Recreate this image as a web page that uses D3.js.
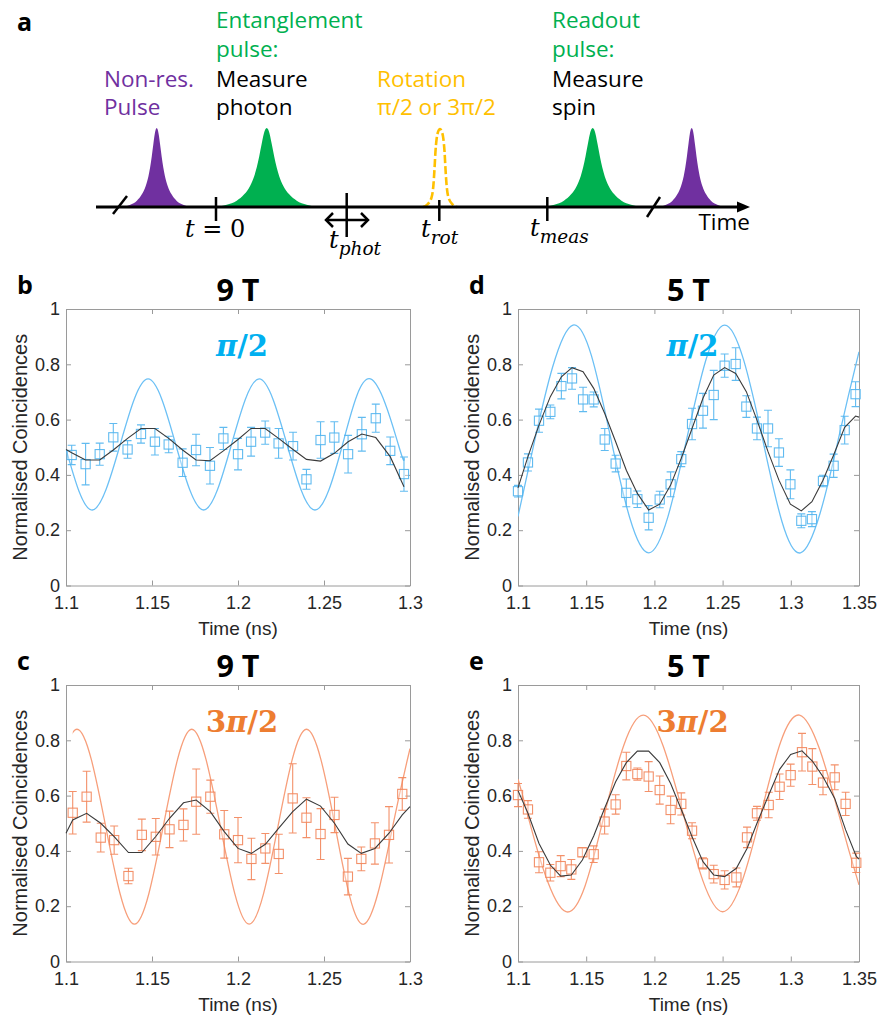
<!DOCTYPE html>
<html>
<head>
<meta charset="utf-8">
<script src="https://cdn.jsdelivr.net/npm/d3@7"></script>
<style>
  body { margin: 0; background: #fff; }
  svg { display: block; }
</style>
</head>
<body>
<svg id="fig" width="877" height="1017"></svg>
<script>
// ---- data ----
const ticks9 = [1.1, 1.15, 1.2, 1.25, 1.3];
const ticks5 = [1.1, 1.15, 1.2, 1.25, 1.3, 1.35];
const yTicks = [0, 0.2, 0.4, 0.6, 0.8, 1];

// b: 9 T, pi/2
const b9X = [1.1033,1.1114,1.1196,1.1275,1.1358,1.1436,1.1517,1.1597,1.1678,1.1756,1.1837,1.1915,1.2000,1.2076,1.2158,1.2236,1.2320,1.2398,1.2480,1.2560,1.2640,1.2720,1.2801,1.2885,1.2965];
const b9Y = [0.472,0.439,0.475,0.536,0.492,0.548,0.520,0.510,0.444,0.490,0.433,0.532,0.475,0.520,0.553,0.514,0.504,0.384,0.526,0.535,0.475,0.547,0.605,0.487,0.403];
const b9E = [0.035,0.075,0.040,0.050,0.032,0.033,0.048,0.030,0.050,0.057,0.066,0.040,0.057,0.052,0.042,0.054,0.050,0.036,0.066,0.057,0.068,0.061,0.051,0.050,0.062];
const b9ModelX = [1.1].concat(b9X);
const b9ModelY = [0.492,0.480,0.454,0.454,0.490,0.532,0.568,0.568,0.532,0.490,0.454,0.451,0.487,0.528,0.568,0.568,0.532,0.492,0.456,0.450,0.478,0.520,0.548,0.535,0.466,0.357];
const b9FitX = [1.1,1.1153,1.1315,1.1477,1.1638,1.1800,1.1962,1.2123,1.2285,1.2447,1.2608,1.2770,1.2932,1.2965];
const b9FitY = [0.494,0.273,0.51,0.747,0.51,0.273,0.51,0.747,0.51,0.273,0.51,0.747,0.51,0.46];

// d: 5 T, pi/2
const d5X = [1.1000,1.1073,1.1154,1.1237,1.1318,1.1396,1.1477,1.1555,1.1636,1.1716,1.1794,1.1875,1.1958,1.2039,1.2119,1.2197,1.2276,1.2356,1.2435,1.2515,1.2596,1.2674,1.2752,1.2833,1.2913,1.2997,1.3077,1.3155,1.3236,1.3314,1.3395,1.3475];
const d5Y = [0.341,0.445,0.596,0.628,0.721,0.749,0.673,0.673,0.528,0.441,0.335,0.312,0.245,0.311,0.366,0.457,0.584,0.632,0.689,0.795,0.801,0.647,0.568,0.568,0.481,0.366,0.234,0.240,0.378,0.433,0.562,0.692];
const d5E = [0.021,0.031,0.042,0.025,0.046,0.039,0.044,0.027,0.040,0.030,0.050,0.030,0.044,0.030,0.045,0.027,0.057,0.063,0.089,0.042,0.059,0.039,0.041,0.066,0.050,0.052,0.025,0.027,0.021,0.042,0.050,0.045];
const d5ModelX = d5X.concat([1.35]);
const d5ModelY = [0.353,0.466,0.580,0.683,0.755,0.788,0.773,0.713,0.622,0.520,0.417,0.333,0.273,0.294,0.363,0.460,0.568,0.677,0.761,0.788,0.767,0.701,0.598,0.484,0.381,0.294,0.270,0.303,0.381,0.472,0.572,0.613,0.609];
const d5FitX = [1.1,1.1125,1.1403,1.1681,1.1959,1.2237,1.2515,1.2793,1.3071,1.3349,1.35];
const d5FitY = [0.25,0.53,0.942,0.53,0.118,0.53,0.942,0.53,0.118,0.53,0.845];

// c: 9 T, 3pi/2  (fit is drawn from the first data point)
const c9X = [1.1039,1.1120,1.1202,1.1280,1.1363,1.1441,1.1522,1.1602,1.1683,1.1757,1.1839,1.1920,1.2000,1.2078,1.2159,1.2237,1.2318,1.2398,1.2480,1.2561,1.2639,1.2717,1.2796,1.2878,1.2955];
const c9Y = [0.538,0.596,0.448,0.439,0.309,0.458,0.451,0.478,0.494,0.578,0.596,0.460,0.439,0.371,0.409,0.389,0.590,0.520,0.461,0.530,0.307,0.371,0.427,0.458,0.606];
const c9E = [0.077,0.092,0.052,0.051,0.028,0.057,0.066,0.066,0.058,0.118,0.060,0.086,0.082,0.075,0.054,0.071,0.125,0.072,0.092,0.064,0.066,0.043,0.075,0.102,0.059];
const c9ModelX = [1.1].concat(c9X, [1.3]);
const c9ModelY = [0.464,0.512,0.536,0.500,0.452,0.394,0.394,0.452,0.518,0.574,0.584,0.542,0.470,0.409,0.391,0.424,0.482,0.542,0.587,0.562,0.500,0.425,0.391,0.409,0.464,0.530,0.560];
const c9FitX = [1.0897,1.1064,1.1231,1.1398,1.1565,1.1731,1.1898,1.2065,1.2232,1.2398,1.2565,1.2732,1.2899,1.3];
const c9FitY = [0.4875,0.84,0.4875,0.135,0.4875,0.84,0.4875,0.135,0.4875,0.84,0.4875,0.135,0.4875,0.77];

// e: 5 T, 3pi/2
const e5X = [1.1000,1.1073,1.1154,1.1237,1.1313,1.1391,1.1472,1.1555,1.1635,1.1716,1.1794,1.1875,1.1958,1.2039,1.2119,1.2197,1.2276,1.2356,1.2435,1.2515,1.2601,1.2679,1.2752,1.2838,1.2918,1.2999,1.3082,1.3158,1.3236,1.3322,1.3402,1.3480];
const e5Y = [0.602,0.550,0.359,0.321,0.345,0.333,0.395,0.388,0.506,0.568,0.707,0.678,0.669,0.620,0.548,0.570,0.473,0.355,0.316,0.295,0.304,0.449,0.536,0.566,0.632,0.674,0.757,0.705,0.647,0.666,0.570,0.357];
const e5E = [0.042,0.032,0.038,0.030,0.038,0.036,0.016,0.030,0.045,0.035,0.050,0.022,0.054,0.051,0.050,0.040,0.029,0.020,0.032,0.033,0.034,0.037,0.025,0.046,0.046,0.040,0.068,0.065,0.044,0.045,0.042,0.035];
const e5ModelX = e5X.concat([1.35]);
const e5ModelY = [0.618,0.536,0.427,0.349,0.309,0.313,0.367,0.454,0.554,0.650,0.719,0.761,0.761,0.719,0.644,0.550,0.451,0.361,0.313,0.307,0.337,0.409,0.500,0.602,0.695,0.749,0.762,0.725,0.668,0.590,0.476,0.380,0.370];
const e5FitX = [1.1,1.1068,1.1352,1.1636,1.1919,1.2210,1.2500,1.2782,1.3064,1.3350,1.35];
const e5FitY = [0.659,0.536,0.18,0.536,0.891,0.536,0.18,0.536,0.891,0.536,0.277];

// pulse outlines for the sketch in panel a: [offset / half width, height fraction]
const peakShape = [[-1,0],[-0.8,0.03],[-0.6,0.08],[-0.45,0.16],[-0.33,0.27],[-0.25,0.39],[-0.2,0.5],[-0.15,0.64],[-0.1,0.8],[-0.06,0.92],[-0.03,0.98],[0,1],
  [0.03,0.98],[0.06,0.92],[0.1,0.8],[0.15,0.64],[0.2,0.5],[0.25,0.39],[0.33,0.27],[0.45,0.16],[0.6,0.08],[0.8,0.03],[1,0]];
const rotShape = [[-1,0],[-0.75,0.03],[-0.5,0.12],[-0.38,0.3],[-0.32,0.5],[-0.27,0.7],[-0.2,0.87],[-0.12,0.96],[0,1],
  [0.12,0.96],[0.2,0.87],[0.27,0.7],[0.32,0.5],[0.38,0.3],[0.5,0.12],[0.75,0.03],[1,0]];

// ---- styles ----
const PURPLE = '#7030a0', GREEN = '#00b050', GOLD = '#ffc000';
const BLUE_T = '#00b0f0', ORANGE_T = '#ed7d31';
const FRAME = '#9a9a9a', TICKTXT = '#262626';
const sans = "'Open Sans', 'Noto Sans', sans-serif";
const arial = "'Liberation Sans', Arial, sans-serif";
const serif = "'DejaVu Serif', serif";

const svg = d3.select('#fig');

// ---- panel a: pulse sequence sketch ----
const ga = svg.append('g');
const base = 207, peakH = 79;

function drawPeak(cx, w, color) {
  const area = d3.area()
    .x(d => cx + d[0] * w)
    .y0(base)
    .y1(d => base - d[1] * peakH)
    .curve(d3.curveMonotoneX);
  ga.append('path').attr('d', area(peakShape)).attr('fill', color);
}
drawPeak(156.7, 33, PURPLE);
drawPeak(266.7, 50, GREEN);
drawPeak(592.7, 48, GREEN);
drawPeak(691.7, 32, PURPLE);

const rotLine = d3.line()
  .x(d => 440 + d[0] * 17)
  .y(d => base - d[1] * 78)
  .curve(d3.curveMonotoneX);
ga.append('path').attr('d', rotLine(rotShape))
  .attr('fill', 'none').attr('stroke', GOLD).attr('stroke-width', 2.6)
  .attr('stroke-dasharray', '8,3');

// time axis
ga.append('line').attr('x1', 96).attr('x2', 740).attr('y1', base).attr('y2', base)
  .attr('stroke', '#000').attr('stroke-width', 3);
ga.append('path').attr('d', `M750,${base} L737,${base - 5.5} L737,${base + 5.5} Z`).attr('fill', '#000');

// break marks
[[113, 214, 127, 196], [647, 217, 660, 197]].forEach(s => {
  ga.append('line').attr('x1', s[0]).attr('y1', s[1]).attr('x2', s[2]).attr('y2', s[3])
    .attr('stroke', '#000').attr('stroke-width', 2.5);
});

// tick marks
[[216, 197, 221], [346.7, 193, 237], [439.3, 200, 221], [547.3, 197, 221]].forEach(t => {
  ga.append('line').attr('x1', t[0]).attr('x2', t[0]).attr('y1', t[1]).attr('y2', t[2])
    .attr('stroke', '#000').attr('stroke-width', 2.5);
});

// double arrow for t_phot
ga.append('line').attr('x1', 326).attr('x2', 368).attr('y1', 220).attr('y2', 220)
  .attr('stroke', '#000').attr('stroke-width', 2.5);
ga.append('path').attr('d', 'M333,213 L326,220 L333,227 M361,213 L368,220 L361,227')
  .attr('fill', 'none').attr('stroke', '#000').attr('stroke-width', 2.5);

// labels
function label(x, y, txt, color) {
  ga.append('text').attr('x', x).attr('y', y).text(txt)
    .attr('fill', color).attr('font-family', sans).attr('font-size', 22.5);
}
label(104, 87, 'Non-res.', PURPLE);
label(104, 115, 'Pulse', PURPLE);
label(216, 28, 'Entanglement', GREEN);
label(216, 57, 'pulse:', GREEN);
label(216, 87, 'Measure', '#000');
label(216, 115, 'photon', '#000');
label(377, 87, 'Rotation', GOLD);
label(377, 115, 'π/2 or 3π/2', GOLD);
label(552, 28, 'Readout', GREEN);
label(552, 57, 'pulse:', GREEN);
label(552, 87, 'Measure', '#000');
label(552, 115, 'spin', '#000');
ga.append('text').attr('x', 750).attr('y', 230).attr('text-anchor', 'end').text('Time')
  .attr('font-family', sans).attr('font-size', 22.5);

function mathLabel(x, y, sub, rest) {
  const t = ga.append('text').attr('x', x).attr('y', y)
    .attr('font-family', serif).attr('font-size', 24);
  t.append('tspan').attr('font-style', 'italic').text('t');
  if (sub) t.append('tspan').attr('font-style', 'italic').attr('font-size', 18.5).attr('dy', 7).text(sub);
  if (rest) t.append('tspan').text(rest);
}
mathLabel(185, 237, null, ' = 0');
mathLabel(329, 248, 'phot');
mathLabel(421, 237, 'rot');
mathLabel(530, 236, 'meas');

svg.append('text').attr('x', 17).attr('y', 31).text('a')
  .attr('font-family', sans).attr('font-weight', 700).attr('font-size', 25);

// ---- panels b–e ----
const panels = [
  { tag: 'b', title: '9 T', phase: ['', 'π', '/2'], tcol: BLUE_T, dcol: '#50b4ee', fcol: '#6cc0f5',
    x0: 66, x1: 410, y0: 585.5, y1: 309, dom: [1.1, 1.3], ticks: ticks9, fitFrom: 1.1,
    X: b9X, Y: b9Y, E: b9E, mX: b9ModelX, mY: b9ModelY, fX: b9FitX, fY: b9FitY },
  { tag: 'd', title: '5 T', phase: ['', 'π', '/2'], tcol: BLUE_T, dcol: '#50b4ee', fcol: '#6cc0f5',
    x0: 518, x1: 859, y0: 585.5, y1: 309, dom: [1.1, 1.35], ticks: ticks5, fitFrom: 1.1,
    X: d5X, Y: d5Y, E: d5E, mX: d5ModelX, mY: d5ModelY, fX: d5FitX, fY: d5FitY },
  { tag: 'c', title: '9 T', phase: ['3', 'π', '/2'], tcol: ORANGE_T, dcol: '#f2855a', fcol: '#f79f7b',
    x0: 66, x1: 410, y0: 961.5, y1: 685, dom: [1.1, 1.3], ticks: ticks9, fitFrom: c9X[0],
    X: c9X, Y: c9Y, E: c9E, mX: c9ModelX, mY: c9ModelY, fX: c9FitX, fY: c9FitY },
  { tag: 'e', title: '5 T', phase: ['3', 'π', '/2'], tcol: ORANGE_T, dcol: '#f2855a', fcol: '#f79f7b',
    x0: 518, x1: 859, y0: 961.5, y1: 685, dom: [1.1, 1.35], ticks: ticks5, fitFrom: 1.1,
    X: e5X, Y: e5Y, E: e5E, mX: e5ModelX, mY: e5ModelY, fX: e5FitX, fY: e5FitY },
];

const fmt = d3.format('~g');

function styleAxis(sel) {
  sel.select('.domain').attr('stroke', FRAME).attr('stroke-width', 1);
  sel.selectAll('.tick line').attr('stroke', FRAME);
  sel.selectAll('.tick text').attr('fill', TICKTXT).attr('font-family', arial).attr('font-size', 18);
}

function drawPanel(p) {
  const x = d3.scaleLinear().domain(p.dom).range([p.x0, p.x1]);
  const y = d3.scaleLinear().domain([0, 1]).range([p.y0, p.y1]);
  const g = svg.append('g');

  g.append('g').attr('transform', `translate(0,${p.y0})`)
    .call(d3.axisBottom(x).tickValues(p.ticks).tickFormat(fmt).tickSizeInner(-5).tickSizeOuter(0).tickPadding(10.5))
    .call(styleAxis);
  g.append('g').attr('transform', `translate(0,${p.y1})`)
    .call(d3.axisTop(x).tickValues(p.ticks).tickFormat('').tickSizeInner(-5).tickSizeOuter(0))
    .call(styleAxis);
  g.append('g').attr('transform', `translate(${p.x0},0)`)
    .call(d3.axisLeft(y).tickValues(yTicks).tickFormat(fmt).tickSizeInner(-5).tickSizeOuter(0).tickPadding(6))
    .call(styleAxis);
  g.append('g').attr('transform', `translate(${p.x1},0)`)
    .call(d3.axisRight(y).tickValues(yTicks).tickFormat('').tickSizeInner(-5).tickSizeOuter(0))
    .call(styleAxis);

  // ideal fit, clipped to the range where it is drawn
  const clipId = 'clip-' + p.tag;
  svg.append('clipPath').attr('id', clipId).append('rect')
    .attr('x', x(p.fitFrom)).attr('y', p.y1 - 20)
    .attr('width', p.x1 - x(p.fitFrom)).attr('height', p.y0 - p.y1 + 40);
  const fitLine = d3.line().x(d => x(d[0])).y(d => y(d[1])).curve(d3.curveNatural);
  g.append('path').attr('d', fitLine(d3.zip(p.fX, p.fY)))
    .attr('clip-path', `url(#${clipId})`)
    .attr('fill', 'none').attr('stroke', p.fcol).attr('stroke-width', 1.3);

  // data with error bars
  const pts = d3.zip(p.X, p.Y, p.E);
  const dg = g.append('g').attr('stroke', p.dcol).attr('fill', 'none').attr('stroke-width', 1.1)
    .attr('stroke-opacity', 0.9);
  dg.selectAll('path.err').data(pts).join('path').attr('class', 'err')
    .attr('d', d => {
      const cx = x(d[0]), lo = y(d[1] - d[2]), hi = y(d[1] + d[2]);
      return `M${cx},${lo}V${hi}M${cx - 4},${lo}H${cx + 4}M${cx - 4},${hi}H${cx + 4}`;
    });
  dg.selectAll('rect').data(pts).join('rect')
    .attr('x', d => x(d[0]) - 4.6).attr('y', d => y(d[1]) - 4.6)
    .attr('width', 9.2).attr('height', 9.2).attr('fill', '#fff').attr('fill-opacity', 0.35);

  // model
  const modelLine = d3.line().x(d => x(d[0])).y(d => y(d[1]));
  g.append('path').attr('d', modelLine(d3.zip(p.mX, p.mY)))
    .attr('fill', 'none').attr('stroke', '#3a3a3a').attr('stroke-width', 1.1);

  const cx = (p.x0 + p.x1) / 2;
  // title, phase, labels
  g.append('text').attr('x', cx).attr('y', p.y1 - 8).attr('text-anchor', 'middle').text(p.title)
    .attr('font-family', sans).attr('font-weight', 700).attr('font-size', 30.5);
  svg.append('text').attr('x', p.x0 - 49).attr('y', p.y1 - 15).text(p.tag)
    .attr('font-family', sans).attr('font-weight', 700).attr('font-size', 25);
  const ph = g.append('text').attr('x', cx + 4).attr('y', p.y1 + 47).attr('text-anchor', 'middle')
    .attr('fill', p.tcol).attr('font-family', serif).attr('font-weight', 700).attr('font-size', 29);
  if (p.phase[0]) ph.append('tspan').text(p.phase[0]);
  ph.append('tspan').attr('font-style', 'italic').text(p.phase[1]);
  ph.append('tspan').text(p.phase[2]);

  g.append('text').attr('x', cx).attr('y', p.y0 + 49).attr('text-anchor', 'middle').text('Time (ns)')
    .attr('fill', TICKTXT).attr('font-family', arial).attr('font-size', 19);
  g.append('text').attr('transform', `translate(${p.x0 - 39},${(p.y0 + p.y1) / 2}) rotate(-90)`)
    .attr('text-anchor', 'middle').text('Normalised Coincidences')
    .attr('fill', TICKTXT).attr('font-family', arial).attr('font-size', 20);
}

panels.forEach(drawPanel);
</script>
</body>
</html>
